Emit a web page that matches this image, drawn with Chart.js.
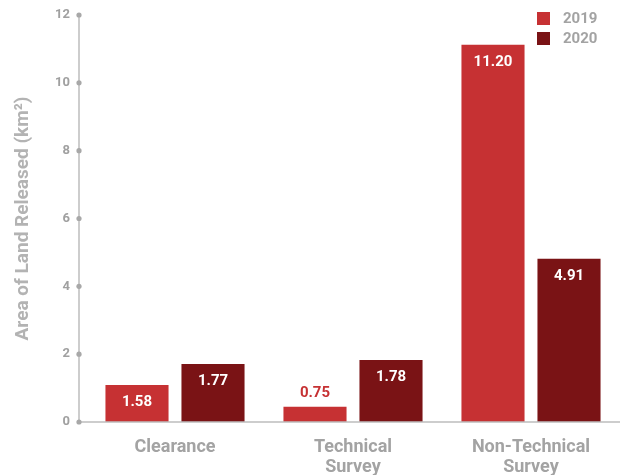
<!DOCTYPE html>
<html>
<head>
<meta charset="utf-8">
<script src="https://cdn.jsdelivr.net/npm/chart.js@4"></script>
<style>
html,body{margin:0;padding:0;background:#fff;}
#wrap{width:625px;height:475px;position:relative;}
</style>
</head>
<body>
<div id="wrap"><canvas id="c" width="625" height="475"></canvas></div>
<script>
const categories = [["Clearance"], ["Technical", "Survey"], ["Non-Technical", "Survey"]];
const seriesNames = ["2019", "2020"];
// bar heights as drawn in the picture
const values2019 = [1.09, 0.45, 11.12];
const values2020 = [1.71, 1.83, 4.81];
// value labels as printed on the bars
const labels2019 = ["1.58", "0.75", "11.20"];
const labels2020 = ["1.77", "1.78", "4.91"];
const yTicks = [0, 2, 4, 6, 8, 10, 12];

const colors = ["#C63133", "#7A1315"];
const FONT = "Roboto";
const GRAY = "#a3a3a3";

const axisPlugin = {
  id: 'axisPlugin',
  afterDraw(chart) {
    const ctx = chart.ctx;
    const ca = chart.chartArea;
    const y = chart.scales.y;
    const ax = ca.left - 7;
    ctx.save();
    ctx.strokeStyle = "#bdbdbd";
    ctx.lineWidth = 1.5;
    ctx.beginPath();
    ctx.moveTo(ax, y.getPixelForValue(yTicks[yTicks.length - 1]));
    ctx.lineTo(ax, ca.bottom);
    ctx.lineTo(ca.right, ca.bottom);
    ctx.stroke();
    yTicks.forEach(t => {
      const py = y.getPixelForValue(t);
      ctx.fillStyle = "#a8a8a8";
      ctx.beginPath();
      ctx.arc(ax, py, 2.6, 0, Math.PI * 2);
      ctx.fill();
      ctx.fillStyle = "#a0a0a0";
      ctx.font = "bold 13px " + FONT;
      ctx.textAlign = "right";
      ctx.textBaseline = "middle";
      ctx.fillText(String(t), ax - 9, py);
    });
    // data labels
    const labelSets = [labels2019, labels2020];
    chart.data.datasets.forEach((ds, di) => {
      const meta = chart.getDatasetMeta(di);
      meta.data.forEach((bar, i) => {
        const h = bar.base - bar.y;
        ctx.font = "bold 15px " + FONT;
        ctx.textAlign = "center";
        ctx.textBaseline = "middle";
        if (h > 30) {
          ctx.fillStyle = "#ffffff";
          ctx.fillText(labelSets[di][i], bar.x, bar.y + 17);
        } else {
          ctx.fillStyle = colors[di];
          ctx.fillText(labelSets[di][i], bar.x, bar.y - 13);
        }
      });
    });
    // legend
    seriesNames.forEach((n, i) => {
      const ly = 12 + i * 20;
      ctx.fillStyle = colors[i];
      ctx.fillRect(537, ly, 13, 13);
      ctx.fillStyle = GRAY;
      ctx.font = "bold 15px " + FONT;
      ctx.textAlign = "left";
      ctx.textBaseline = "middle";
      ctx.fillText(n, 563, ly + 7);
    });
    ctx.restore();
  }
};

new Chart(document.getElementById('c'), {
  type: 'bar',
  data: {
    labels: categories,
    datasets: [
      { label: seriesNames[0], data: values2019, backgroundColor: colors[0], barPercentage: 0.83, categoryPercentage: 0.854 },
      { label: seriesNames[1], data: values2020, backgroundColor: colors[1], barPercentage: 0.83, categoryPercentage: 0.854 }
    ]
  },
  options: {
    responsive: false,
    animation: false,
    events: [],
    layout: { padding: { top: 15, right: 5, left: 0, bottom: 0 } },
    plugins: { legend: { display: false }, tooltip: { enabled: false } },
    scales: {
      x: {
        grid: { display: false, drawTicks: false },
        border: { display: false },
        ticks: { color: GRAY, font: { family: FONT, weight: 'bold', size: 18, lineHeight: 1.1 }, padding: 16, maxRotation: 0 },
        afterFit(s) { s.height = 53; }
      },
      y: {
        min: 0, max: 12,
        afterBuildTicks(s) { s.ticks = yTicks.map(v => ({ value: v })); },
        grid: { display: false, drawTicks: false },
        border: { display: false },
        ticks: { display: false, padding: 0 },
        title: {
          display: true,
          text: "Area of Land Released (km²)",
          color: "#b3b3b3",
          font: { family: FONT, weight: 'bold', size: 19 },
          padding: { top: 12, bottom: 0 }
        },
        afterFit(s) { s.width = 86; }
      }
    }
  },
  plugins: [axisPlugin]
});
</script>
</body>
</html>
